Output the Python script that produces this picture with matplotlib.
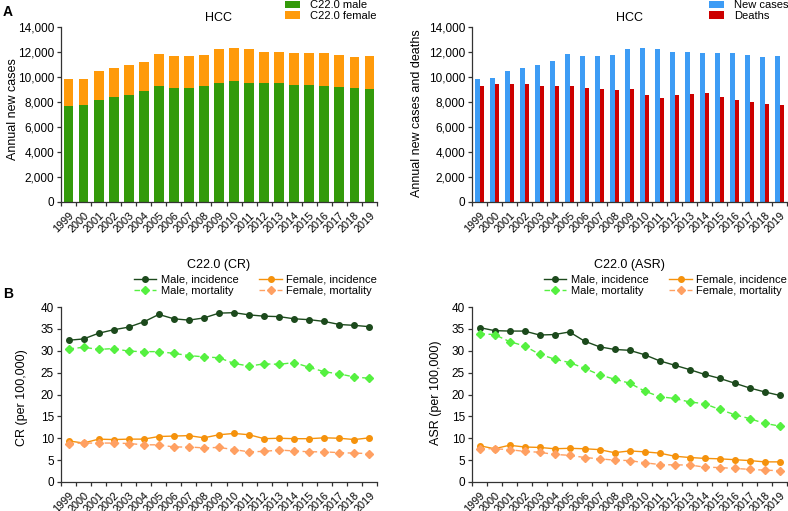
import numpy as np
import matplotlib
matplotlib.use("Agg")
import matplotlib.pyplot as plt
from matplotlib.ticker import FuncFormatter

plt.rcParams["font.family"] = ["Liberation Sans", "DejaVu Sans"]
plt.rcParams["font.size"] = 8

# ─── data ────────────────────────────────────────────────────────────────
years = [str(y) for y in range(1999, 2020)]

male_cases = [7650, 7730, 8130, 8370, 8530, 8850, 9280, 9090, 9090, 9250,
              9550, 9650, 9550, 9490, 9490, 9390, 9390, 9310, 9170, 9120, 9040]
total_cases = [9860, 9880, 10500, 10690, 10930, 11240, 11840, 11660, 11680, 11740,
               12240, 12350, 12240, 12020, 12030, 11920, 11940, 11890, 11760, 11570, 11650]
female_cases = [t - m for t, m in zip(total_cases, male_cases)]
deaths = [9250, 9470, 9410, 9470, 9310, 9250, 9310, 9120, 9040, 8990,
          9040, 8590, 8320, 8530, 8640, 8690, 8400, 8190, 8000, 7840, 7730]

cr_male_inc = [32.4, 32.7, 34.0, 34.8, 35.4, 36.6, 38.3, 37.3, 37.0, 37.5, 38.6,
               38.7, 38.2, 37.9, 37.8, 37.3, 37.1, 36.7, 36.0, 35.8, 35.5]
cr_male_mort = [30.4, 30.8, 30.3, 30.5, 29.9, 29.8, 29.8, 29.4, 28.9, 28.6, 28.4,
                27.1, 26.5, 27.0, 26.9, 27.3, 26.2, 25.2, 24.7, 24.0, 23.7]
cr_fem_inc = [9.4, 8.9, 9.8, 9.7, 9.8, 9.8, 10.4, 10.5, 10.6, 10.1, 10.8,
              11.1, 10.8, 9.9, 10.0, 9.9, 9.9, 10.1, 10.0, 9.7, 10.1]
cr_fem_mort = [8.8, 8.9, 8.9, 8.9, 8.8, 8.5, 8.5, 8.0, 8.0, 7.8, 7.9,
               7.4, 6.9, 7.0, 7.3, 7.1, 6.9, 6.9, 6.7, 6.6, 6.5]

asr_male_inc = [35.3, 34.6, 34.5, 34.5, 33.6, 33.7, 34.3, 32.2, 30.9, 30.3, 30.1,
                29.1, 27.7, 26.7, 25.7, 24.6, 23.7, 22.6, 21.5, 20.6, 19.8]
asr_male_mort = [33.9, 33.7, 32.1, 31.1, 29.2, 28.1, 27.3, 26.0, 24.5, 23.5, 22.6,
                 20.8, 19.5, 19.1, 18.3, 17.9, 16.6, 15.4, 14.5, 13.4, 12.8]
asr_fem_inc = [8.3, 7.6, 8.4, 8.0, 7.9, 7.6, 7.7, 7.6, 7.4, 6.7, 7.1,
               6.9, 6.6, 5.9, 5.6, 5.4, 5.3, 5.1, 4.9, 4.6, 4.6]
asr_fem_mort = [7.6, 7.6, 7.4, 7.0, 6.8, 6.3, 6.1, 5.6, 5.3, 5.0, 4.9,
                4.4, 4.0, 3.9, 3.9, 3.4, 3.3, 3.1, 2.9, 2.7, 2.6]

# ─── colours ─────────────────────────────────────────────────────────────
C_MALE_BAR = "#339a0a"
C_FEM_BAR = "#ff9a0a"
C_NEW = "#3d9cf5"
C_DEATH = "#cc0000"
C_MI = "#1c4a1c"
C_MM = "#55f040"
C_FI = "#f5920c"
C_FM = "#ffa062"

W, H = 788, 511
fig = plt.figure(figsize=(W / 100, H / 100), dpi=100)


def px_axes(x0, x1, ytop, ybot):
    return fig.add_axes([x0 / W, 1 - ybot / H, (x1 - x0) / W, (ybot - ytop) / H])


def style_axes(ax):
    x = np.arange(len(years))
    for s in ("top", "right"):
        ax.spines[s].set_visible(False)
    for s in ("left", "bottom"):
        ax.spines[s].set_color("#333333")
        ax.spines[s].set_linewidth(0.9)
    ax.set_xlim(-0.5, len(years) - 0.5)
    ax.set_xticks(x)
    ax.set_xticklabels(years, rotation=45, ha="right", rotation_mode="anchor")
    ax.set_xticks(np.arange(-0.5, len(years)), minor=True)
    ax.tick_params(axis="x", which="major", length=0, pad=6, labelsize=7.8)
    ax.tick_params(axis="x", which="minor", length=3, width=0.9, color="#333333")
    ax.tick_params(axis="y", length=3, width=0.9, color="#333333", labelsize=8.5, pad=2)


def place_ylabel(ax, text, xpx, yfrac):
    ax.set_ylabel(text, fontsize=9, va="center")
    pos = ax.get_position()
    ax.yaxis.set_label_coords((xpx / W - pos.x0) / pos.width, yfrac)


thousands = FuncFormatter(lambda v, p: f"{int(v):,}")
x = np.arange(len(years))
leg_bar = dict(frameon=False, fontsize=8, handlelength=1.35, handleheight=0.65,
               handletextpad=0.9, labelspacing=0.05, borderpad=0, borderaxespad=0)

# ─── A left: stacked bars ────────────────────────────────────────────────
ax1 = px_axes(61, 377, 27, 202)
ax1.bar(x, male_cases, width=0.65, color=C_MALE_BAR, label="C22.0 male")
ax1.bar(x, female_cases, width=0.65, bottom=male_cases, color=C_FEM_BAR, label="C22.0 female")
ax1.set_ylim(0, 14000)
ax1.set_yticks(np.arange(0, 14001, 2000))
ax1.yaxis.set_major_formatter(thousands)
place_ylabel(ax1, "Annual new cases", 13, 0.53)
ax1.set_title("HCC", fontsize=9, pad=4.5)
style_axes(ax1)
ax1.legend(loc="upper right", bbox_to_anchor=(1.0, 1.152), **leg_bar)

# ─── A right: grouped bars ───────────────────────────────────────────────
ax2 = px_axes(472, 787, 27, 202)
bw = 0.28
ax2.bar(x - bw / 2, total_cases, width=bw, color=C_NEW, label="New cases")
ax2.bar(x + bw / 2, deaths, width=bw, color=C_DEATH, label="Deaths")
ax2.set_ylim(0, 14000)
ax2.set_yticks(np.arange(0, 14001, 2000))
ax2.yaxis.set_major_formatter(thousands)
place_ylabel(ax2, "Annual new cases and deaths", 417, 0.51)
ax2.set_title("HCC", fontsize=9, pad=4.5)
style_axes(ax2)
ax2.legend(loc="upper right", bbox_to_anchor=(1.005, 1.152), **leg_bar)


# ─── B: rate lines ───────────────────────────────────────────────────────
def rate_panel(ax, mi, mm, fi, fm, title, ylabel, xlab, ylab_frac):
    ax.plot(x, mi, color=C_MI, marker="o", ms=4, lw=1.0, label="Male, incidence")
    ax.plot(x, mm, color=C_MM, marker="D", ms=3.6, lw=1.0, ls=(0, (4, 2.5)), label="Male, mortality")
    ax.plot(x, fi, color=C_FI, marker="o", ms=4, lw=1.0, label="Female, incidence")
    ax.plot(x, fm, color=C_FM, marker="D", ms=3.6, lw=1.0, ls=(0, (4, 2.5)), label="Female, mortality")
    ax.set_ylim(0, 40)
    ax.set_yticks(np.arange(0, 41, 5))
    place_ylabel(ax, ylabel, xlab, ylab_frac)
    ax.set_title(title, fontsize=9, pad=28)
    style_axes(ax)
    ax.legend(loc="upper right", bbox_to_anchor=(1.0, 1.183), ncol=2, frameon=False, fontsize=8,
              handlelength=2.0, handletextpad=0.4, columnspacing=1.9, labelspacing=0.05,
              borderpad=0, borderaxespad=0)


ax3 = px_axes(61, 377, 307, 482)
rate_panel(ax3, cr_male_inc, cr_male_mort, cr_fem_inc, cr_fem_mort,
           "C22.0 (CR)", "CR (per 100,000)", 22, 0.48)
ax4 = px_axes(472, 787, 307, 482)
rate_panel(ax4, asr_male_inc, asr_male_mort, asr_fem_inc, asr_fem_mort,
           "C22.0 (ASR)", "ASR (per 100,000)", 436, 0.51)

fig.text(3 / W, 1 - 12 / H, "A", fontsize=10, fontweight="bold", va="center", ha="left")
fig.text(3 / W, 1 - 294 / H, "B", fontsize=10, fontweight="bold", va="center", ha="left")

fig.savefig("out.png", dpi=100)
